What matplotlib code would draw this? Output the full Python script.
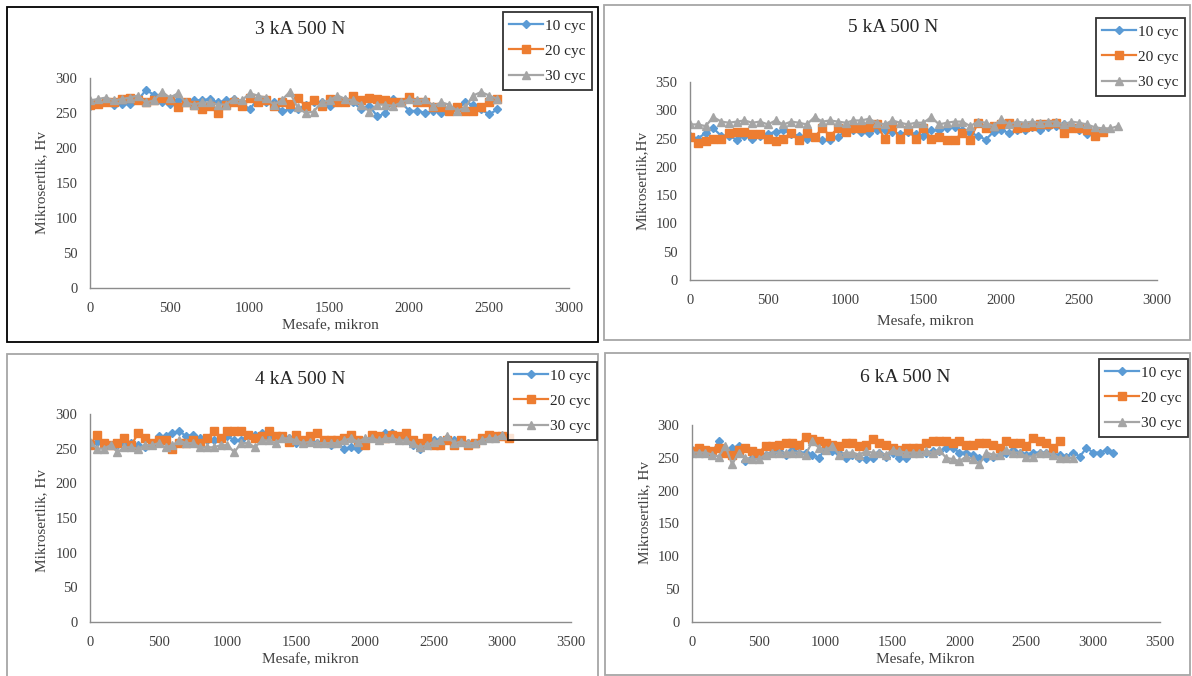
import numpy as np
import matplotlib
matplotlib.use("Agg")
import matplotlib.pyplot as plt
from matplotlib.patches import Rectangle

plt.rcParams['font.family'] = ['Liberation Serif', 'DejaVu Serif']

W, H = 1192, 676

# ---- data (hardness Hv every 50 micron) ----
x_step = 50

# 3 kA 500 N
p1_10 = [260, 265, 268, 262, 263, 263, 268, 283, 276, 265, 263, 268, 265, 268, 268, 270, 265, 268,
         270, 265, 255, 270, 265, 265, 253, 255, 255, 262, 265, 265, 260, 268, 268, 265, 255, 260,
         245, 250, 270, 265, 253, 253, 250, 253, 250, 253, 255, 265, 262, 255, 248, 255]
p1_20 = [262, 263, 265, 265, 270, 272, 268, 265, 268, 272, 268, 258, 265, 262, 255, 260, 250, 262,
         265, 260, 272, 265, 268, 260, 265, 263, 272, 260, 268, 260, 270, 265, 265, 275, 268, 272,
         270, 268, 265, 265, 273, 265, 265, 258, 258, 253, 258, 253, 253, 258, 265, 270]
p1_30 = [268, 270, 272, 268, 270, 272, 275, 265, 268, 280, 272, 278, 265, 262, 265, 265, 262, 262,
         270, 268, 278, 275, 272, 262, 268, 280, 258, 250, 252, 265, 268, 275, 270, 268, 262, 252,
         262, 262, 260, 265, 270, 268, 270, 260, 265, 262, 253, 258, 275, 280, 275, 270]

# 5 kA 500 N
p2_10 = [255, 250, 260, 268, 255, 255, 248, 255, 250, 255, 258, 262, 265, 258, 255, 250, 252, 248,
         248, 252, 265, 265, 262, 260, 265, 265, 262, 258, 262, 258, 255, 265, 265, 268, 270, 265,
         260, 255, 248, 262, 265, 260, 265, 265, 270, 265, 270, 272, 275, 268, 265, 258]
p2_20 = [252, 242, 245, 250, 250, 260, 262, 262, 258, 258, 250, 245, 250, 260, 248, 260, 253, 268,
         255, 268, 262, 268, 268, 270, 275, 250, 272, 250, 265, 250, 268, 250, 252, 248, 248, 260,
         248, 278, 268, 272, 275, 278, 268, 270, 272, 275, 275, 278, 260, 268, 268, 265, 255, 262]
p2_30 = [275, 275, 272, 288, 280, 278, 280, 282, 278, 280, 275, 282, 275, 280, 278, 275, 288, 280,
         282, 280, 278, 282, 282, 285, 278, 275, 282, 278, 275, 278, 278, 288, 275, 278, 280, 280,
         272, 280, 278, 272, 285, 275, 280, 278, 280, 278, 280, 280, 275, 280, 278, 275, 270, 268,
         268, 272]

# 4 kA 500 N
p3_10 = [258, 260, 255, 255, 255, 258, 258, 255, 252, 255, 268, 268, 272, 275, 268, 270, 265, 262,
         262, 262, 268, 262, 262, 270, 270, 272, 268, 265, 265, 265, 258, 262, 262, 258, 258, 255,
         258, 250, 252, 250, 262, 265, 268, 272, 272, 265, 265, 255, 250, 262, 262, 262, 265, 262,
         260, 258, 258, 262, 265, 268, 268]
p3_20 = [255, 270, 258, 255, 258, 265, 255, 272, 265, 258, 262, 262, 250, 258, 258, 262, 258, 265,
         275, 265, 275, 275, 275, 270, 265, 268, 275, 268, 268, 260, 270, 262, 268, 272, 262, 262,
         262, 265, 270, 262, 255, 270, 268, 265, 270, 268, 272, 262, 258, 265, 255, 255, 262, 255,
         262, 255, 258, 265, 270, 268, 268, 265]
p3_30 = [260, 250, 250, 255, 245, 252, 252, 250, 255, 255, 258, 252, 255, 262, 258, 258, 252, 252,
         252, 255, 255, 245, 258, 258, 252, 262, 262, 258, 265, 265, 262, 258, 260, 258, 258, 258,
         258, 262, 265, 260, 265, 265, 262, 265, 265, 262, 262, 258, 252, 255, 260, 262, 268, 258,
         260, 258, 258, 262, 265, 265, 270]

# 6 kA 500 N
p4_10 = [262, 260, 258, 258, 275, 262, 265, 268, 245, 250, 252, 255, 258, 260, 255, 262, 258, 258,
         255, 250, 265, 260, 258, 250, 255, 250, 248, 250, 258, 252, 258, 250, 250, 258, 260, 258,
         260, 260, 265, 265, 258, 258, 255, 250, 250, 252, 255, 258, 262, 258, 255, 258, 258, 258,
         255, 255, 252, 258, 252, 265, 258, 258, 262, 258]
p4_20 = [260, 265, 262, 260, 265, 258, 255, 262, 265, 260, 258, 268, 268, 270, 272, 272, 270, 282,
         278, 275, 272, 270, 268, 272, 272, 268, 270, 278, 272, 270, 265, 262, 265, 265, 265, 272,
         275, 275, 275, 272, 275, 270, 270, 272, 272, 270, 265, 275, 272, 272, 268, 280, 275, 272,
         265, 275]
p4_30 = [258, 258, 258, 255, 252, 268, 240, 258, 250, 248, 248, 255, 258, 258, 258, 258, 258, 255,
         275, 265, 262, 268, 255, 258, 258, 255, 260, 258, 258, 255, 262, 260, 258, 258, 258, 260,
         258, 262, 250, 248, 245, 252, 248, 240, 258, 255, 255, 262, 258, 258, 252, 252, 258, 258,
         255, 250, 250, 250]

labels = ['10 cyc', '20 cyc', '30 cyc']
colors = ['#5B9BD5', '#ED7D31', '#A5A5A5']
markers = ['D', 's', '^']
msizes = [4, 6, 6]

fig = plt.figure(figsize=(W / 100, H / 100), dpi=100)


def fx(px):
    return px / W


def fy(py):
    return 1 - py / H


panels = [
    # series, texts, axes box (l, r, top, bottom) in px, limits, text positions, legend box, border
    dict(series=[p1_10, p1_20, p1_30], title='3 kA 500 N', xlabel='Mesafe, mikron', ylabel='Mikrosertlik, Hv',
         box=(90, 569, 78, 288), xmax=3000, ymax=300, tpos=(300, 30), xlpos=(330, 326), ylpos=(42, 183),
         leg=(498, 12, 592, 92), border=(7, 7, 598, 342), bcol='black'),
    dict(series=[p2_10, p2_20, p2_30], title='5 kA 500 N', xlabel='Mesafe, mikron', ylabel='Mikrosertlik,Hv',
         box=(690, 1157, 82, 280), xmax=3000, ymax=350, tpos=(893, 28), xlpos=(925, 322), ylpos=(642, 180),
         leg=(1090, 18, 1185, 112), border=(604, 5, 1190, 340), bcol='#a6a6a6'),
    dict(series=[p3_10, p3_20, p3_30], title='4 kA 500 N', xlabel='Mesafe, mikron', ylabel='Mikrosertlik, Hv',
         box=(90, 571, 414, 622), xmax=3500, ymax=300, tpos=(300, 380), xlpos=(310, 660), ylpos=(42, 520),
         leg=(505, 362, 597, 438), border=(7, 354, 598, 680), bcol='#a6a6a6'),
    dict(series=[p4_10, p4_20, p4_30], title='6 kA 500 N', xlabel='Mesafe, Mikron', ylabel='Mikrosertlik, Hv',
         box=(692, 1160, 425, 622), xmax=3500, ymax=300, tpos=(905, 378), xlpos=(925, 660), ylpos=(645, 512),
         leg=(1097, 359, 1188, 435), border=(605, 353, 1190, 675), bcol='#a6a6a6'),
]

for p in panels:
    bx0, by0, bx1, by1 = p['border']
    fig.patches.append(Rectangle((fx(bx0), fy(by1)), fx(bx1 - bx0), (by1 - by0) / H,
                                 transform=fig.transFigure, fill=False, edgecolor=p['bcol'], lw=1.3))

    l, r, t, b = p['box']
    ax = fig.add_axes([fx(l), fy(b), (r - l) / W, (b - t) / H])
    handles = []
    for vals, lab, c, m, ms in zip(p['series'], labels, colors, markers, msizes):
        xs = np.arange(len(vals)) * x_step
        h, = ax.plot(xs, vals, color=c, marker=m, markersize=ms, lw=1.6, label=lab)
        handles.append(h)
    ax.set_xlim(0, p['xmax'])
    ax.set_ylim(0, p['ymax'])
    ax.set_xticks(np.arange(0, p['xmax'] + 1, 500))
    ax.set_yticks(np.arange(0, p['ymax'] + 1, 50))
    for s in ['top', 'right']:
        ax.spines[s].set_visible(False)
    for s in ['left', 'bottom']:
        ax.spines[s].set_color('#8c8c8c')
        ax.spines[s].set_linewidth(1.0)
    ax.tick_params(length=0, labelsize=10.5, colors='#404040')
    ax.tick_params(axis='x', pad=10)
    ax.tick_params(axis='y', pad=9)
    ax.patch.set_alpha(0)

    fig.text(fx(p['tpos'][0]), fy(p['tpos'][1]), p['title'], ha='center', va='center', fontsize=14, color='#262626')
    fig.text(fx(p['xlpos'][0]), fy(p['xlpos'][1]), p['xlabel'], ha='center', va='center', fontsize=11, color='#404040')
    fig.text(fx(p['ylpos'][0]), fy(p['ylpos'][1]), p['ylabel'], ha='center', va='center', fontsize=11,
             color='#404040', rotation=90)

    lx0, ly0, lx1, ly1 = p['leg']
    lg = fig.legend(handles=handles, loc='upper right', bbox_to_anchor=(fx(lx1), fy(ly0)),
                    bbox_transform=fig.transFigure, frameon=True, fancybox=False, fontsize=11,
                    handlelength=2.2, handletextpad=0.1, labelspacing=0.75, borderpad=0.45,
                    borderaxespad=0)
    lg.get_frame().set_edgecolor('black')
    lg.get_frame().set_linewidth(1.3)
    for txt in lg.get_texts():
        txt.set_color('#262626')

fig.savefig('out.png', dpi=100)
